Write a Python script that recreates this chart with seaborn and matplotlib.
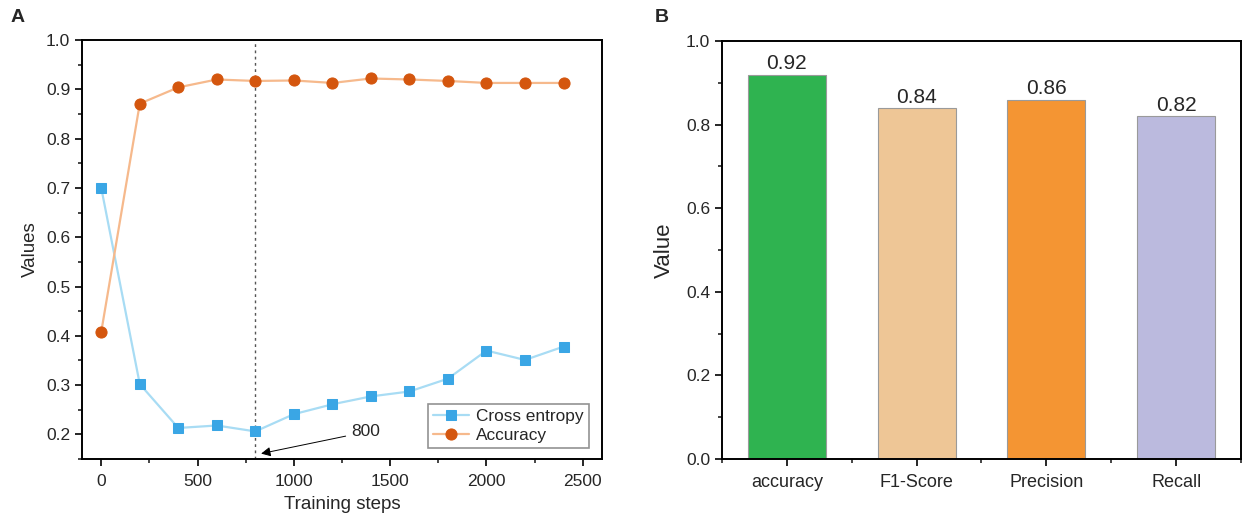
import numpy as np
import pandas as pd
import seaborn as sns
import matplotlib.pyplot as plt
from matplotlib.ticker import MultipleLocator, FixedLocator

# data
steps = [0, 200, 400, 600, 800, 1000, 1200, 1400, 1600, 1800, 2000, 2200, 2400]
cross_entropy = [0.700, 0.302, 0.213, 0.218, 0.206, 0.241, 0.261, 0.277, 0.287,
                 0.313, 0.370, 0.351, 0.378]
accuracy = [0.408, 0.871, 0.904, 0.920, 0.917, 0.918, 0.913, 0.922, 0.920,
            0.917, 0.913, 0.913, 0.913]
best_step = 800

metrics = ['accuracy', 'F1-Score', 'Precision', 'Recall']
metric_values = [0.92, 0.84, 0.86, 0.82]
bar_colors = ['#2fb350', '#eec696', '#f49533', '#bbbade']

sns.set_style('ticks')
plt.rcParams['font.family'] = ['Liberation Sans', 'DejaVu Sans']
plt.rcParams['axes.linewidth'] = 1.4
plt.rcParams['xtick.major.width'] = 1.4
plt.rcParams['ytick.major.width'] = 1.4
plt.rcParams['xtick.minor.width'] = 1.2
plt.rcParams['ytick.minor.width'] = 1.2
plt.rcParams['xtick.major.size'] = 5
plt.rcParams['ytick.major.size'] = 5
plt.rcParams['xtick.minor.size'] = 3
plt.rcParams['ytick.minor.size'] = 3
plt.rcParams['axes.edgecolor'] = 'black'

fig = plt.figure(figsize=(12.48, 5.27), dpi=100)
ax1 = fig.add_axes([0.0657, 0.129, 0.4167, 0.795])
ax2 = fig.add_axes([0.5785, 0.129, 0.4159, 0.793])

# panel A
sns.lineplot(x=steps, y=cross_entropy, ax=ax1, color='#a8dcf4', lw=1.6,
             marker='s', markersize=7, markerfacecolor='#3aa6e5',
             markeredgecolor='#3aa6e5', label='Cross entropy')
sns.lineplot(x=steps, y=accuracy, ax=ax1, color='#f6b98c', lw=1.6,
             marker='o', markersize=8, markerfacecolor='#d4560e',
             markeredgecolor='#d4560e', label='Accuracy')
ax1.axvline(best_step, color='#555555', lw=1.0, ls=(0, (2, 2.5)), zorder=0)
ax1.annotate('800', xy=(830, 0.161), xytext=(1300, 0.205),
             fontsize=12.5, va='center', ha='left',
             arrowprops=dict(arrowstyle='-|>', color='black', lw=0.7,
                             mutation_scale=14, shrinkA=2, shrinkB=0))
ax1.set_xlim(-100, 2600)
ax1.set_ylim(0.15, 1.0)
ax1.xaxis.set_major_locator(MultipleLocator(500))
ax1.xaxis.set_minor_locator(MultipleLocator(250))
ax1.yaxis.set_major_locator(MultipleLocator(0.1))
ax1.yaxis.set_minor_locator(MultipleLocator(0.05))
ax1.set_xlabel('Training steps', fontsize=13.5, labelpad=5)
ax1.set_ylabel('Values', fontsize=13.5, labelpad=5)
ax1.tick_params(labelsize=12.5)
ax1.tick_params(axis='x', pad=6)
leg = ax1.legend(loc='lower right', bbox_to_anchor=(0.975, 0.026), borderaxespad=0,
                 frameon=True, fancybox=False, edgecolor='#777777', fontsize=12.4,
                 handlelength=2.1, borderpad=0.3, labelspacing=0.2, handletextpad=0.4)
leg.get_frame().set_linewidth(1.2)
fig.text(18 / 1248, 1 - 18 / 527, 'A', fontsize=14, fontweight='bold',
         ha='center', va='center')

# panel B
sns.barplot(x=metrics, y=metric_values, hue=metrics, palette=bar_colors, ax=ax2,
            width=0.6, legend=False, saturation=1, edgecolor='#9a9a9a', linewidth=0.8)
for cont in ax2.containers:
    ax2.bar_label(cont, fmt='%.2f', padding=1, fontsize=15)
ax2.set_xlim(-0.5, 3.5)
ax2.set_ylim(0, 1.0)
ax2.yaxis.set_major_locator(MultipleLocator(0.2))
ax2.yaxis.set_minor_locator(MultipleLocator(0.1))
ax2.xaxis.set_minor_locator(FixedLocator([-0.5, 0.5, 1.5, 2.5, 3.5]))
ax2.set_xlabel('')
ax2.set_ylabel('Value', fontsize=16, labelpad=8)
ax2.tick_params(axis='y', labelsize=12.5)
ax2.tick_params(axis='x', labelsize=13, pad=6)
fig.text(662 / 1248, 1 - 18 / 527, 'B', fontsize=14, fontweight='bold',
         ha='center', va='center')

for ax in (ax1, ax2):
    for s in ax.spines.values():
        s.set_visible(True)

fig.savefig('out.png', dpi=100)
